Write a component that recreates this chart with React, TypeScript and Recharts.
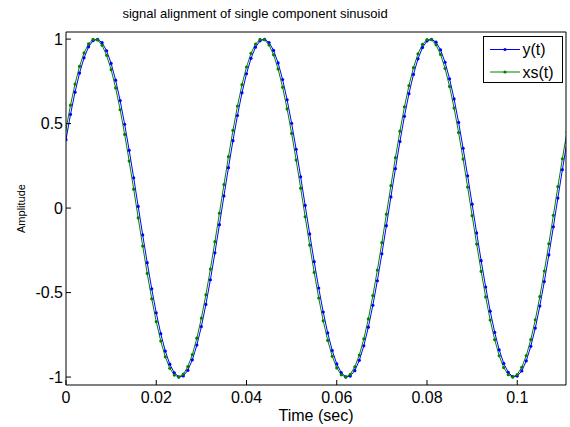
import React from 'react';
import { LineChart, Line, XAxis, YAxis, Legend, Label } from 'recharts';

const FONT = 'Arial, "Liberation Sans", Helvetica, sans-serif';

const titleText = 'signal alignment of single component sinusoid';
const xLabelText = 'Time (sec)';
const yLabelText = 'Amplitude';
const seriesNames = ['y(t)', 'xs(t)'];

const xTicks = [0, 0.02, 0.04, 0.06, 0.08, 0.1];
const yTicks = [-1, -0.5, 0, 0.5, 1];

const timeSec = [
  0, 0.001, 0.002, 0.003, 0.004, 0.005, 0.006, 0.007, 0.008, 0.009,
  0.01, 0.011, 0.012, 0.013, 0.014, 0.015, 0.016, 0.017, 0.018, 0.019,
  0.02, 0.021, 0.022, 0.023, 0.024, 0.025, 0.026, 0.027, 0.028, 0.029,
  0.03, 0.031, 0.032, 0.033, 0.034, 0.035, 0.036, 0.037, 0.038, 0.039,
  0.04, 0.041, 0.042, 0.043, 0.044, 0.045, 0.046, 0.047, 0.048, 0.049,
  0.05, 0.051, 0.052, 0.053, 0.054, 0.055, 0.056, 0.057, 0.058, 0.059,
  0.06, 0.061, 0.062, 0.063, 0.064, 0.065, 0.066, 0.067, 0.068, 0.069,
  0.07, 0.071, 0.072, 0.073, 0.074, 0.075, 0.076, 0.077, 0.078, 0.079,
  0.08, 0.081, 0.082, 0.083, 0.084, 0.085, 0.086, 0.087, 0.088, 0.089,
  0.09, 0.091, 0.092, 0.093, 0.094, 0.095, 0.096, 0.097, 0.098, 0.099,
  0.1, 0.101, 0.102, 0.103, 0.104, 0.105, 0.106, 0.107, 0.108, 0.109,
  0.11, 0.111,
];

const ySignal = [
  0.405, 0.554, 0.686, 0.799, 0.889, 0.954, 0.991, 0.999, 0.979, 0.931,
  0.856, 0.757, 0.636, 0.496, 0.342, 0.179, 0.010, -0.159, -0.323, -0.478,
  -0.620, -0.743, -0.846, -0.924, -0.975, -0.999, -0.993, -0.960, -0.898, -0.811,
  -0.701, -0.570, -0.424, -0.265, -0.098, 0.072, 0.239, 0.399, 0.548, 0.682,
  0.795, 0.886, 0.952, 0.990, 0.999, 0.980, 0.933, 0.859, 0.761, 0.641,
  0.502, 0.348, 0.185, 0.016, -0.153, -0.317, -0.473, -0.615, -0.739, -0.843,
  -0.922, -0.974, -0.999, -0.994, -0.962, -0.901, -0.815, -0.705, -0.575, -0.430,
  -0.271, -0.104, 0.066, 0.233, 0.394, 0.543, 0.677, 0.791, 0.883, 0.950,
  0.989, 0.999, 0.982, 0.936, 0.863, 0.765, 0.646, 0.507, 0.354, 0.191,
  0.023, -0.147, -0.311, -0.467, -0.610, -0.735, -0.839, -0.919, -0.972, -0.998,
  -0.994, -0.964, -0.904, -0.818, -0.710, -0.580, -0.435, -0.277, -0.111, 0.059,
  0.227, 0.388,
];

const xsSignal = [
  0.466, 0.609, 0.734, 0.838, 0.918, 0.972, 0.998, 0.995, 0.963, 0.904,
  0.819, 0.711, 0.582, 0.436, 0.278, 0.112, -0.058, -0.225, -0.387, -0.537,
  -0.672, -0.787, -0.880, -0.948, -0.988, -1.000, -0.983, -0.938, -0.867, -0.770,
  -0.651, -0.513, -0.361, -0.199, -0.030, 0.139, 0.304, 0.460, 0.604, 0.730,
  0.835, 0.916, 0.971, 0.998, 0.996, 0.965, 0.907, 0.823, 0.715, 0.587,
  0.442, 0.284, 0.118, -0.052, -0.219, -0.381, -0.532, -0.667, -0.783, -0.877,
  -0.946, -0.987, -1.000, -0.984, -0.940, -0.870, -0.774, -0.656, -0.518, -0.367,
  -0.205, -0.036, 0.133, 0.298, 0.455, 0.599, 0.725, 0.831, 0.913, 0.969,
  0.997, 0.996, 0.966, 0.909, 0.826, 0.720, 0.592, 0.447, 0.290, 0.124,
  -0.045, -0.213, -0.375, -0.526, -0.663, -0.779, -0.874, -0.944, -0.986, -1.000,
  -0.985, -0.942, -0.873, -0.778, -0.661, -0.524, -0.373, -0.211, -0.043, 0.127,
  0.292, 0.449,
];

const data = timeSec.map((t, i) => ({ t, y: ySignal[i], xs: xsSignal[i] }));

const X_DOMAIN: [number, number] = [0, 0.1108];
const Y_DOMAIN: [number, number] = [-1.047, 1.042];

const BLUE = '#0000ff';
const GREEN = '#008000';

function LegendBox() {
  return (
    <svg width={80} height={47} style={{ display: 'block' }}>
      <rect x={0.5} y={0.5} width={79} height={46} fill="#fff" stroke="#000" strokeWidth={1} />
      <line x1={7} y1={13.5} x2={37} y2={13.5} stroke={BLUE} strokeWidth={1} />
      <circle cx={22} cy={13.5} r={1.6} fill={BLUE} />
      <text x={39.5} y={13.5} dy="0.355em" fontSize={16} fontFamily={FONT} fill="#000">
        {seriesNames[0]}
      </text>
      <line x1={7} y1={36} x2={37} y2={36} stroke={GREEN} strokeWidth={1} />
      <circle cx={22} cy={36} r={1.6} fill={GREEN} />
      <text x={39.5} y={36} dy="0.355em" fontSize={16} fontFamily={FONT} fill="#000">
        {seriesNames[1]}
      </text>
    </svg>
  );
}

export default function App() {
  return (
    <div style={{ position: 'absolute', left: 0, top: 0, width: 570, height: 427, background: '#fff' }}>
      <LineChart
        width={570}
        height={427}
        data={data}
        margin={{ top: 31, right: 3, bottom: 0, left: 0 }}
        style={{ fontFamily: FONT }}
      >
        <XAxis
          dataKey="t"
          type="number"
          domain={X_DOMAIN}
          ticks={xTicks}
          interval={0}
          allowDataOverflow
          height={42}
          tickSize={-5}
          tickMargin={12}
          stroke="#000"
          tick={{ fill: '#000', fontSize: 16, fontFamily: FONT }}
          tickFormatter={(v: number) => String(v)}
        >
          <Label
            content={(props: any) => {
              const vb = props.viewBox || { x: 66, y: 385, width: 500, height: 42 };
              return (
                <text
                  x={vb.x + vb.width / 2}
                  y={vb.y + vb.height - 6}
                  textAnchor="middle"
                  fontSize={16}
                  fontFamily={FONT}
                  fill="#000"
                >
                  {xLabelText}
                </text>
              );
            }}
          />
        </XAxis>
        <XAxis
          xAxisId="top"
          orientation="top"
          type="number"
          domain={X_DOMAIN}
          ticks={xTicks}
          interval={0}
          allowDataOverflow
          height={1}
          tick={false}
          tickSize={-5}
          stroke="#000"
        >
          <Label
            content={(props: any) => {
              const vb = props.viewBox || { x: 66, y: 31, width: 500, height: 1 };
              return (
                <text
                  x={vb.x + vb.width / 2 - 61}
                  y={vb.y + vb.height - 14.5}
                  textAnchor="middle"
                  fontSize={13}
                  fontFamily={FONT}
                  fill="#000"
                >
                  {titleText}
                </text>
              );
            }}
          />
        </XAxis>
        <YAxis
          type="number"
          domain={Y_DOMAIN}
          ticks={yTicks}
          interval={0}
          allowDataOverflow
          width={66}
          tickSize={-5}
          tickMargin={8}
          stroke="#000"
          tick={{ fill: '#000', fontSize: 16, fontFamily: FONT }}
          tickFormatter={(v: number) => String(v)}
        >
          <Label
            content={(props: any) => {
              const vb = props.viewBox || { x: 0, y: 32, width: 66, height: 353 };
              const cx = vb.x + 25;
              const cy = vb.y + vb.height / 2;
              return (
                <text
                  x={cx}
                  y={cy}
                  transform={`rotate(-90, ${cx}, ${cy})`}
                  textAnchor="middle"
                  fontSize={11}
                  fontFamily={FONT}
                  fill="#000"
                >
                  {yLabelText}
                </text>
              );
            }}
          />
        </YAxis>
        <YAxis
          yAxisId="right"
          orientation="right"
          type="number"
          domain={Y_DOMAIN}
          ticks={yTicks}
          interval={0}
          allowDataOverflow
          width={1}
          tick={false}
          tickSize={-5}
          stroke="#000"
        />
        <Line
          dataKey="y"
          name={seriesNames[0]}
          type="linear"
          stroke={BLUE}
          strokeWidth={1}
          dot={{ r: 1.6, fill: BLUE, stroke: BLUE, strokeWidth: 0 }}
          activeDot={false}
          isAnimationActive={false}
        />
        <Line
          dataKey="xs"
          name={seriesNames[1]}
          type="linear"
          stroke={GREEN}
          strokeWidth={1}
          dot={{ r: 1.6, fill: GREEN, stroke: GREEN, strokeWidth: 0 }}
          activeDot={false}
          isAnimationActive={false}
        />
        <Legend
          layout="vertical"
          align="center"
          verticalAlign="middle"
          content={() => <LegendBox />}
          wrapperStyle={{ position: 'absolute', left: 483, top: 36, width: 80, height: 47 }}
        />
      </LineChart>
    </div>
  );
}
